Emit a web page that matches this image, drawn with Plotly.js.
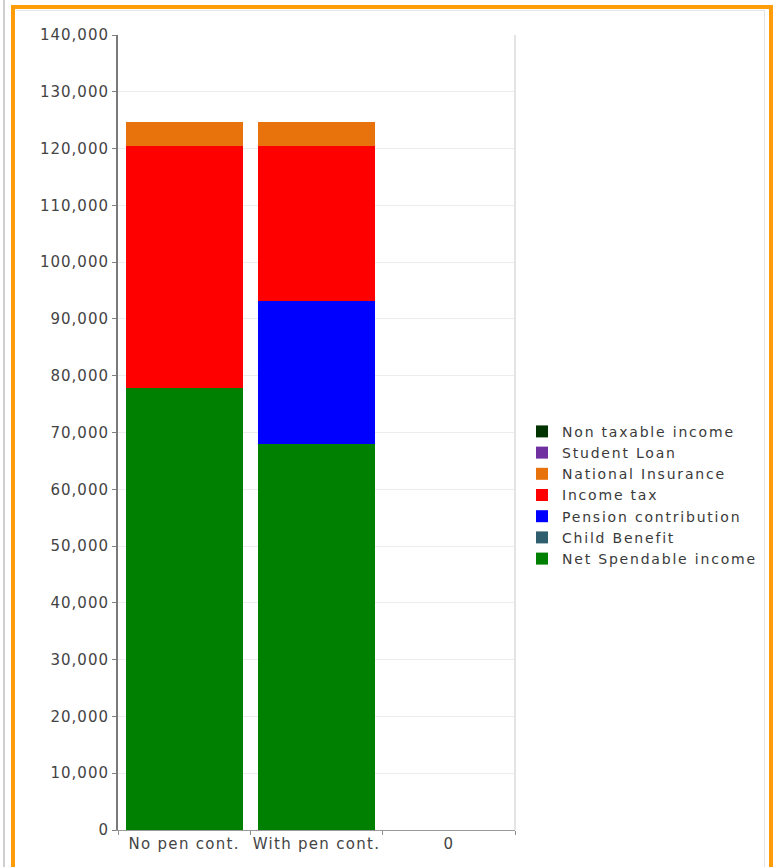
<!DOCTYPE html>
<html>
<head>
<meta charset="utf-8">
<script src="https://cdn.plot.ly/plotly-3.0.1.min.js"></script>
<style>
  html, body { margin: 0; padding: 0; background: #ffffff; }
  #wrap { position: relative; width: 776px; height: 867px; overflow: hidden; }
  #chart { position: absolute; left: 0; top: 0; width: 776px; height: 867px; }
  .edge { position: absolute; pointer-events: none; }
  #chart .ytick text { letter-spacing: 1px; }
  #chart .xtick text { letter-spacing: 1.3px; }
  #chart .legendtext { letter-spacing: 1.8px; }
  #chart .legend, #chart .legend .scrollbox { clip-path: none !important; }
</style>
</head>
<body>
<div id="wrap">
  <div id="chart"></div>
  <div class="edge" style="left:3px;top:0;width:2px;height:867px;background:#cfcfcf;"></div>
  <div class="edge" style="left:11px;top:5px;width:754px;height:900px;border:4px solid #ff9c0a;"></div>
  <div class="edge" style="left:16px;top:10px;width:748px;height:900px;border-top:1px solid #e4e4e4;border-right:1px solid #e4e4e4;"></div>
</div>
<script>
// Data
const categories = ["No pen cont.", "With pen cont.", "0"];
const seriesNames = [
  "Net Spendable income",
  "Child Benefit",
  "Pension contribution",
  "Income tax",
  "National Insurance",
  "Student Loan",
  "Non taxable income"
];
const netSpendable   = [77900, 67900, 0];
const childBenefit   = [0, 0, 0];
const pensionContrib = [0, 25200, 0];
const incomeTax      = [42500, 27300, 0];
const nationalIns    = [4300, 4300, 0];
const studentLoan    = [0, 0, 0];
const nonTaxable     = [0, 0, 0];
const yTickVals = [0, 10000, 20000, 30000, 40000, 50000, 60000, 70000, 80000, 90000, 100000, 110000, 120000, 130000, 140000];
const yTickText = ["0", "10,000", "20,000", "30,000", "40,000", "50,000", "60,000", "70,000", "80,000", "90,000", "100,000", "110,000", "120,000", "130,000", "140,000"];

const seriesValues = [netSpendable, childBenefit, pensionContrib, incomeTax, nationalIns, studentLoan, nonTaxable];
const seriesColors = ["#008000", "#2f5f6f", "#0000ff", "#ff0000", "#e8720c", "#7030a0", "#003300"];

const traces = seriesNames.map((name, i) => ({
  type: "bar",
  name: name,
  x: categories,
  y: seriesValues[i],
  marker: { color: seriesColors[i], line: { width: 0 } },
  hoverinfo: "x+y+name"
}));

const tickFont = { family: "DejaVu Sans, sans-serif", size: 15, color: "#444444" };

const layout = {
  width: 776,
  height: 867,
  margin: { l: 118, r: 261, t: 35, b: 37, pad: 0 },
  paper_bgcolor: "#ffffff",
  plot_bgcolor: "#ffffff",
  barmode: "stack",
  bargap: 0.115,
  showlegend: true,
  legend: {
    traceorder: "reversed",
    x: 1.0176, xanchor: "left",
    y: 0.521, yanchor: "top",
    font: { family: "DejaVu Sans, sans-serif", size: 14, color: "#3a3a3a" },
    bgcolor: "rgba(0,0,0,0)",
    borderwidth: 0
  },
  xaxis: {
    type: "category",
    tickson: "boundaries",
    ticks: "outside",
    ticklen: 4,
    tickcolor: "#8a8a8a",
    showline: true,
    linecolor: "#9a9a9a",
    linewidth: 1,
    showgrid: false,
    zeroline: false,
    tickfont: tickFont,
    fixedrange: true
  },
  yaxis: {
    range: [0, 140000],
    tickvals: yTickVals,
    ticktext: yTickText,
    ticks: "outside",
    ticklen: 4,
    tickcolor: "#808080",
    showline: true,
    linecolor: "#7a7a7a",
    linewidth: 2,
    showgrid: true,
    gridcolor: "#ececec",
    gridwidth: 1,
    zeroline: false,
    tickfont: tickFont,
    fixedrange: true
  },
  shapes: [
    { type: "line", xref: "paper", yref: "paper", x0: 1, x1: 1, y0: 0, y1: 1,
      line: { color: "#e4e4e4", width: 2 } }
  ]
};

Plotly.newPlot("chart", traces, layout, { displayModeBar: false, staticPlot: true });
</script>
</body>
</html>
